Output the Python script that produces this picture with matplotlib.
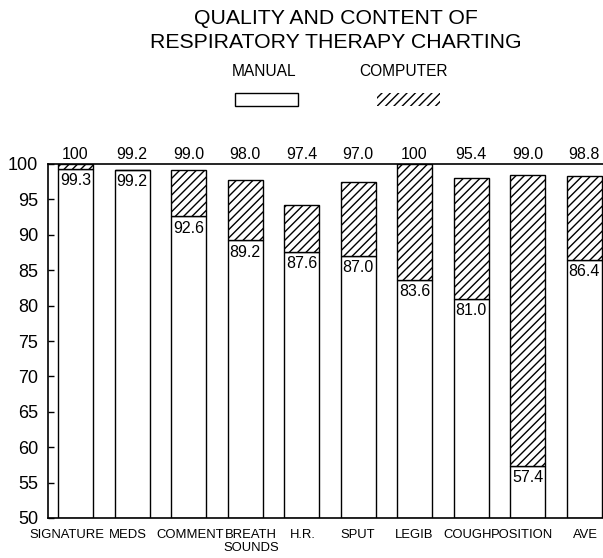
import numpy as np
import matplotlib
matplotlib.use('Agg')
import matplotlib.pyplot as plt
import matplotlib.transforms as mtransforms
from matplotlib.patches import Rectangle

plt.rcParams['font.family'] = ['Liberation Sans', 'DejaVu Sans']
plt.rcParams['hatch.linewidth'] = 1.0

# data
categories = ['SIGNATURE', 'MEDS', 'COMMENT', 'BREATH\nSOUNDS', 'H.R.', 'SPUT',
              'LEGIB', 'COUGH', 'POSITION', 'AVE']
manual = [99.3, 99.2, 92.6, 89.2, 87.6, 87.0, 83.6, 81.0, 57.4, 86.4]
computer_labels = ['100', '99.2', '99.0', '98.0', '97.4', '97.0', '100', '95.4', '99.0', '98.8']
# top of the hatched bars as they are drawn in the original
computer_tops = [100, 99.2, 99.2, 97.8, 94.2, 97.5, 100, 98.0, 98.4, 98.3]

W, H = 603, 558
fig = plt.figure(figsize=(W / 100, H / 100), dpi=100)
ax = fig.add_axes([48 / W, 40 / H, 555 / W, 354 / H])

x = np.arange(len(categories))
manual = np.array(manual)
computer_tops = np.array(computer_tops)
base = 50
width = 0.62

ax.bar(x, manual - base, bottom=base, width=width, color='white',
       edgecolor='black', linewidth=1.0, zorder=2)
ax.bar(x, computer_tops - manual, bottom=manual, width=width, color='white',
       edgecolor='black', hatch='////', linewidth=1.0, zorder=2)

for i in range(len(categories)):
    ax.annotate(computer_labels[i], xy=(x[i], 100), xytext=(0, 1.5),
                textcoords='offset points', ha='center', va='bottom', fontsize=11.5)
    ax.annotate(f'{manual[i]:.1f}', xy=(x[i], manual[i]), xytext=(0, -3),
                textcoords='offset points', ha='center', va='top', fontsize=11.5,
                zorder=3)

ax.set_xlim(-0.487, 9.336)
ax.set_ylim(50, 100)
ax.set_yticks(np.arange(50, 101, 5))
ax.set_xticks(x)
ax.set_xticklabels(categories, fontsize=9.4, linespacing=1.1)
ax.tick_params(axis='x', length=0, pad=8)
ax.tick_params(axis='y', direction='in', length=4, width=1, labelsize=13, pad=7)
ax.spines['right'].set_visible(False)
for s in ['left', 'top', 'bottom']:
    ax.spines[s].set_linewidth(1.2)

# the original labels are nudged sideways so they don't run together
nudge_px = [-9, -4.5, 1.5, 6, 1, 0, 0, -3, -6, 1]
for lab, dx in zip(ax.get_xticklabels(), nudge_px):
    lab.set_transform(lab.get_transform() +
                      mtransforms.ScaledTranslation(dx / 100, 0, fig.dpi_scale_trans))

# title
fig.text(336 / W, 1 - 18 / H, 'QUALITY AND CONTENT OF', ha='center', va='center', fontsize=15.3)
fig.text(336 / W, 1 - 43 / H, 'RESPIRATORY THERAPY CHARTING', ha='center', va='center', fontsize=15.3)

# legend drawn by hand
fig.text(264 / W, 1 - 71 / H, 'MANUAL', ha='center', va='center', fontsize=11.2)
fig.text(404 / W, 1 - 71 / H, 'COMPUTER', ha='center', va='center', fontsize=11.2)
fig.patches.append(Rectangle((235 / W, 1 - 106 / H), 63 / W, 13 / H, transform=fig.transFigure,
                             facecolor='white', edgecolor='black', linewidth=1.0))
fig.patches.append(Rectangle((377 / W, 1 - 106 / H), 63 / W, 13 / H, transform=fig.transFigure,
                             facecolor='white', edgecolor='black', hatch='////', linewidth=0))

fig.savefig('out.png', dpi=100)
